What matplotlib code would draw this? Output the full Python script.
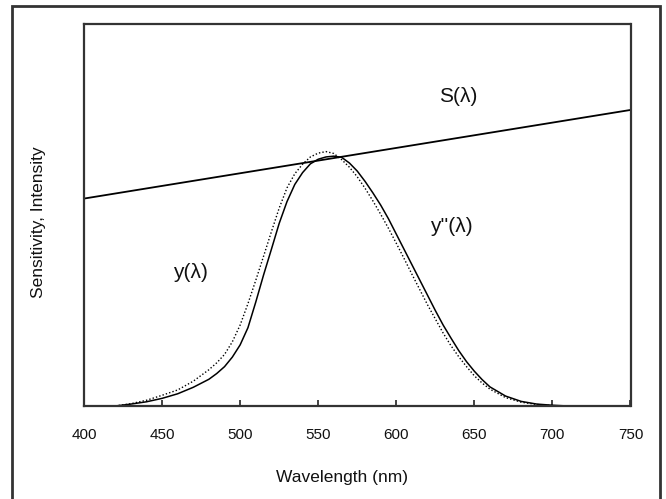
import matplotlib
matplotlib.use("Agg")
import matplotlib.pyplot as plt
from matplotlib.patches import Rectangle

plt.rcParams['font.family'] = ['Liberation Sans', 'DejaVu Sans']

# Wavelength grid (nm)
wl = [420, 430, 440, 450, 460, 470, 480, 485, 490, 495, 500, 505, 510, 515,
      520, 525, 530, 535, 540, 545, 550, 555, 560, 565, 570, 575, 580, 585,
      590, 595, 600, 605, 610, 615, 620, 625, 630, 635, 640, 645, 650, 655,
      660, 670, 680, 690, 700, 710]
# Solid curve
y_solid = [0.0, 0.005, 0.011, 0.020, 0.032, 0.049, 0.070, 0.085, 0.103, 0.128,
           0.160, 0.205, 0.272, 0.343, 0.410, 0.478, 0.535, 0.580, 0.611, 0.634,
           0.646, 0.652, 0.654, 0.651, 0.636, 0.615, 0.588, 0.558, 0.526, 0.490,
           0.450, 0.410, 0.370, 0.330, 0.290, 0.250, 0.212, 0.178, 0.145, 0.116,
           0.091, 0.069, 0.050, 0.026, 0.012, 0.005, 0.002, 0.0]
# Dotted curve
y_dot = [0.0, 0.006, 0.015, 0.028, 0.042, 0.065, 0.095, 0.113, 0.135, 0.168,
         0.212, 0.268, 0.329, 0.392, 0.456, 0.518, 0.571, 0.608, 0.633, 0.652,
         0.662, 0.666, 0.661, 0.645, 0.625, 0.600, 0.570, 0.537, 0.502, 0.465,
         0.426, 0.386, 0.345, 0.305, 0.265, 0.228, 0.191, 0.158, 0.129, 0.103,
         0.079, 0.060, 0.044, 0.022, 0.010, 0.004, 0.001, 0.0]
# Straight line S(lambda)
s_wl = [400, 750]
s_val = [0.543, 0.775]

xticks = [400, 450, 500, 550, 600, 650, 700, 750]

fig = plt.figure(figsize=(6.66, 4.99), dpi=100)
ax = fig.add_axes([84/666, 1-406/499, (630.5-84)/666, (406-24)/499])

ax.plot(s_wl, s_val, color='black', lw=1.3)
ax.plot(wl, y_solid, color='black', lw=1.1)
ax.plot(wl, y_dot, color='black', lw=1.0, ls=(0, (1, 1.5)))

ax.set_xlim(400, 750)
ax.set_ylim(0, 1)
ax.set_xticks(xticks)
ax.set_xticklabels([str(t) for t in xticks], fontsize=11, color='#111111')
ax.set_yticks([])
ax.tick_params(axis='x', direction='in', length=4, width=1.2, pad=16, color='#222222')
for sp in ax.spines.values():
    sp.set_color('#333333')
    sp.set_linewidth(1.6)

ax.set_xlabel('Wavelength (nm)', fontsize=12.5, color='#111111')
ax.xaxis.set_label_coords((342-84)/(630.5-84), -(470-406)/382)
ax.set_ylabel('Sensitivity, Intensity', fontsize=12.5, color='#111111')
ax.yaxis.set_label_coords(-(84-46)/(630.5-84), (406-222)/382)

ax.text(639.5, (406-97)/382, 'S(λ)', fontsize=15, ha='center', va='center', color='#111111')
ax.text(635.5, (406-227)/382, "y''(λ)", fontsize=15, ha='center', va='center', color='#111111')
ax.text(468, (406-273)/382, 'y(λ)', fontsize=15, ha='center', va='center', color='#111111')

# outer frame
fig.patches.append(Rectangle((12/666, -0.02), (660-12)/666, 1.02-6/499,
                             transform=fig.transFigure, fill=False,
                             edgecolor='#333333', lw=2))

fig.savefig('out.png', dpi=100)
